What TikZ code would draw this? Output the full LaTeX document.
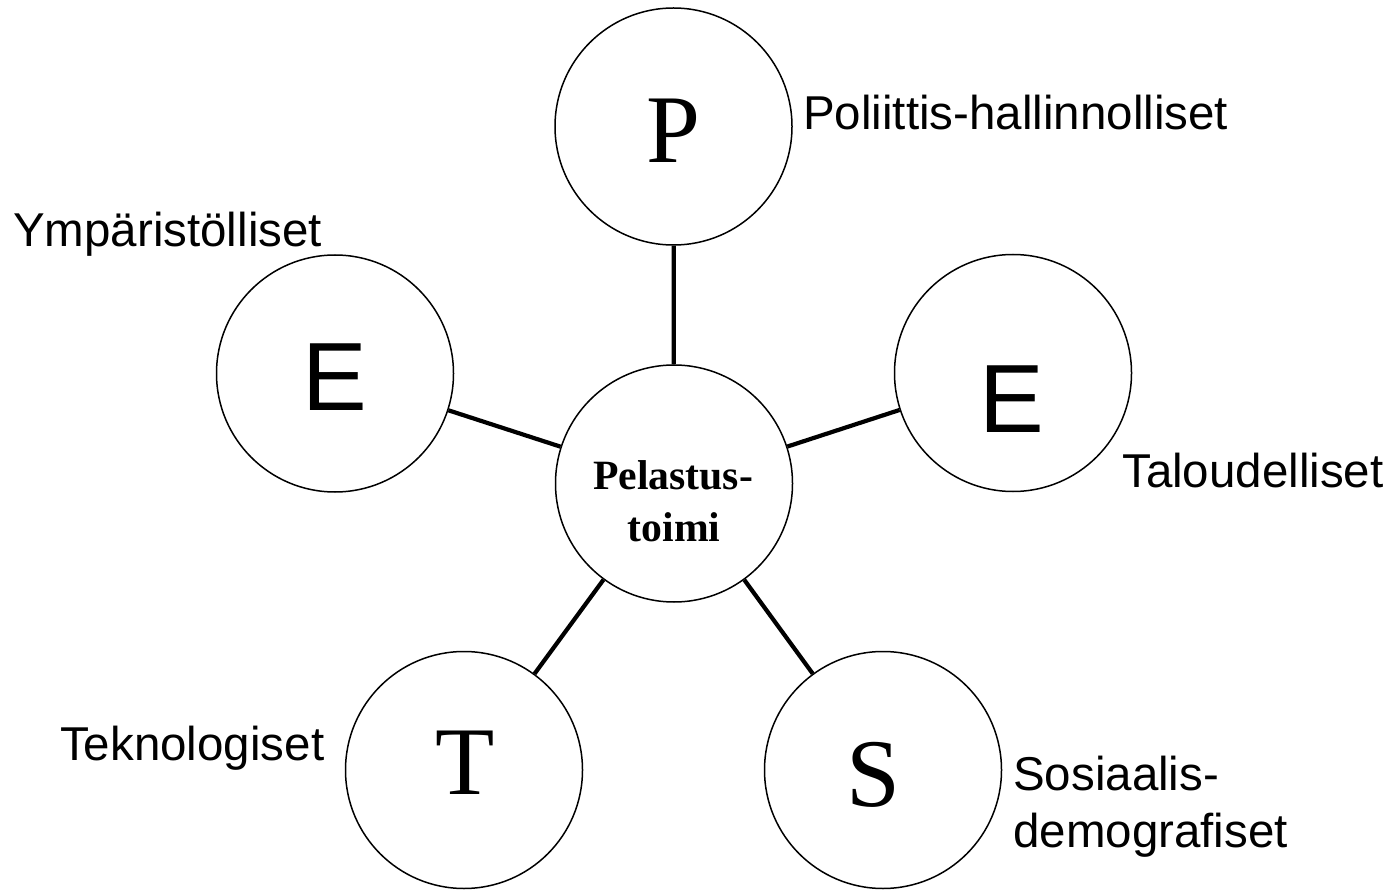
\documentclass[tikz,border=0pt]{standalone}
\usepackage{fontspec}
\setmainfont{Liberation Serif}
\newfontfamily\arialf{Liberation Sans}
\begin{document}
\begin{tikzpicture}[x=1pt,y=-1pt,
  ring/.style={draw=black,line width=1.5pt,circle,minimum size=237pt,inner sep=0pt},
  conn/.style={draw=black,line width=4.2pt},
  lab/.style={anchor=base west,inner sep=0pt,font=\arialf\fontsize{47.5}{55}\selectfont},
  bigserif/.style={anchor=base,inner sep=0pt,font=\fontsize{97}{100}\selectfont},
  bigsans/.style={anchor=base,inner sep=0pt,font=\arialf\fontsize{97}{100}\selectfont},
  ctr/.style={anchor=base,inner sep=0pt,font=\bfseries\fontsize{41.7}{52}\selectfont}]
\useasboundingbox (0,0) rectangle (1395,890);
% circles
\node[ring] (c)  at (674,483.5) {};
\node[ring] (p)  at (673.5,126.5) {};
\node[ring] (el) at (335,373.5) {};
\node[ring] (er) at (1013,373) {};
\node[ring] (t)  at (464,770) {};
\node[ring] (s)  at (883,770) {};
% connectors
\draw[conn] (c) -- (p);
\draw[conn] (c) -- (el);
\draw[conn] (c) -- (er);
\draw[conn] (c) -- (t);
\draw[conn] (c) -- (s);
% letters
\node[bigserif] (pl) at (673,163) {P};
\node[bigsans] (ell) at (335,410) {E};
\node[bigsans] (erl) at (1012,432) {E};
\node[bigserif] (tl) at (465,794) {T};
\node[bigserif] (sl) at (873,806) {S};
% centre text
\node[ctr] (c1) at (673,489) {Pelastus-};
\node[ctr] (c2) at (674,541) {toimi};
% labels
\node[lab] (lp) at (803,130) {Poliittis-hallinnolliset};
\node[lab] (ly) at (13,247) {Ympäristölliset};
\node[lab] (lt) at (1122,487) {Taloudelliset};
\node[lab] (lk) at (60,760) {Teknologiset};
\node[lab] (ls1) at (1013,790) {Sosiaalis-};
\node[lab] (ls2) at (1013,847) {demografiset};
\end{tikzpicture}
\end{document}
